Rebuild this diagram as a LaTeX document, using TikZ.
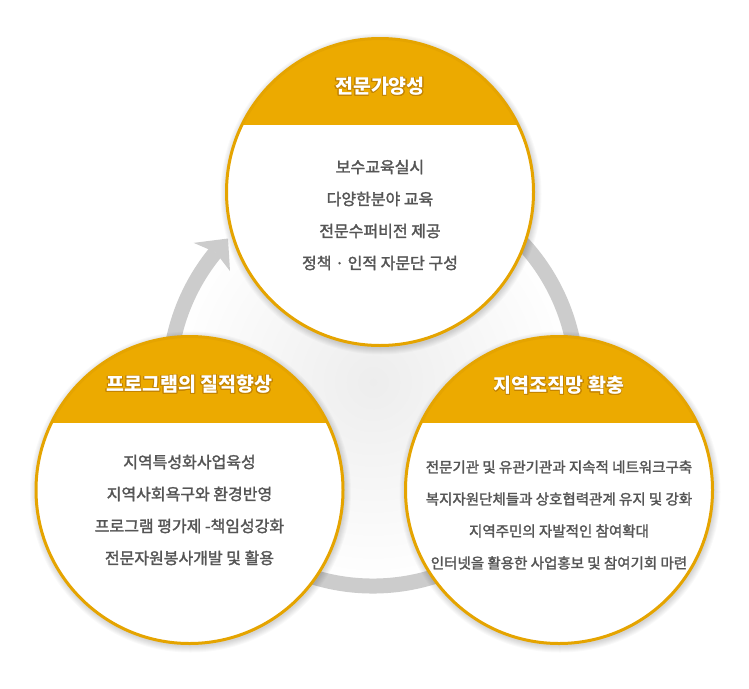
\documentclass[tikz,border=0pt]{standalone}
\usepackage{fontspec}
\setmainfont{Noto Sans CJK KR}
\newfontfamily\bodyfont{Noto Sans CJK KR}[FakeBold=1.8]
\usepackage[copies]{contour}
\contourlength{0.8pt}
\contournumber{16}
\usetikzlibrary{calc}
\definecolor{gold}{RGB}{236,170,0}
\definecolor{goldline}{RGB}{229,164,0}
\definecolor{glow}{RGB}{196,132,0}
\definecolor{ringgray}{RGB}{204,204,204}
\definecolor{txt}{RGB}{85,85,85}
\tikzset{
  bubble/.style={circle, draw=goldline, line width=3pt, minimum size=307pt, inner sep=0pt},
  titletext/.style={text=white, font=\bfseries\fontsize{19.5}{22}\selectfont},
  bodytext/.style={text=txt, align=center, font=\bodyfont\fontsize{16}{32}\selectfont},
  bodysmall/.style={text=txt, align=center, font=\bodyfont\fontsize{14.5}{32}\selectfont},
}
\newcommand{\ttl}[1]{\contour{glow}{#1}}
\newcommand{\bubbleback}[1]{%
  \foreach \i in {1,...,7}{\fill[black,opacity=0.022] ($(#1)+(1,-2)$) circle (153.5+\i);}
  \fill[white] (#1) circle (153.5);
  \begin{scope}
    \clip (#1) circle (153.5);
    \fill[gold] ($(#1)+(-160,67)$) rectangle ($(#1)+(160,160)$);
  \end{scope}}
\begin{document}
\begin{tikzpicture}[x=1pt,y=1pt]
\useasboundingbox[fill=white] (0,0) rectangle (749,-688);
% centre glow
\coordinate (rc) at (373,-382);
\shade[inner color=black!7, outer color=white] (rc) circle (205);
% ring with arrow
\draw[ringgray, line width=15pt] ($(rc)+(60:204)$) arc[start angle=60, end angle=-219.5, radius=204];
\fill[ringgray] ($(rc)+(135.3:204)$) -- ($(rc)+(142.2:227)$) -- ($(rc)+(140.5:204)$) -- ($(rc)+(142.2:181)$) -- cycle;
% centres
\coordinate (ct) at (380,-192);
\coordinate (cl) at (189.5,-490);
\coordinate (cr) at (559,-490);
\bubbleback{ct}
\bubbleback{cl}
\bubbleback{cr}
\node[bubble] (top) at (ct) {};
\node[bubble] (left) at (cl) {};
\node[bubble] (right) at (cr) {};
% titles
\node[titletext] (ttop) at ($(ct)+(0,105)$) {\ttl{전문가양성}};
\node[titletext] (tleft) at ($(cl)+(0,105)$) {\ttl{프로그램의 질적향상}};
\node[titletext] (tright) at ($(cr)+(0,104)$) {\ttl{지역조직망 확충}};
% body
\node[bodytext] (btop) at ($(ct)+(0,-23)$) {보수교육실시\\다양한분야 교육\\전문수퍼비전 제공\\정책 · 인적 자문단 구성};
\node[bodytext] (bleft) at ($(cl)+(0,-20)$) {지역특성화사업육성\\지역사회욕구와 환경반영\\프로그램 평가제 -책임성강화\\전문자원봉사개발 및 활용};
\node[bodysmall] (bright) at ($(cr)+(0,-25)$) {전문기관 및 유관기관과 지속적 네트워크구축\\복지자원단체들과 상호협력관계 유지 및 강화\\지역주민의 자발적인 참여확대\\인터넷을 활용한 사업홍보 및 참여기회 마련};
\end{tikzpicture}
\end{document}
